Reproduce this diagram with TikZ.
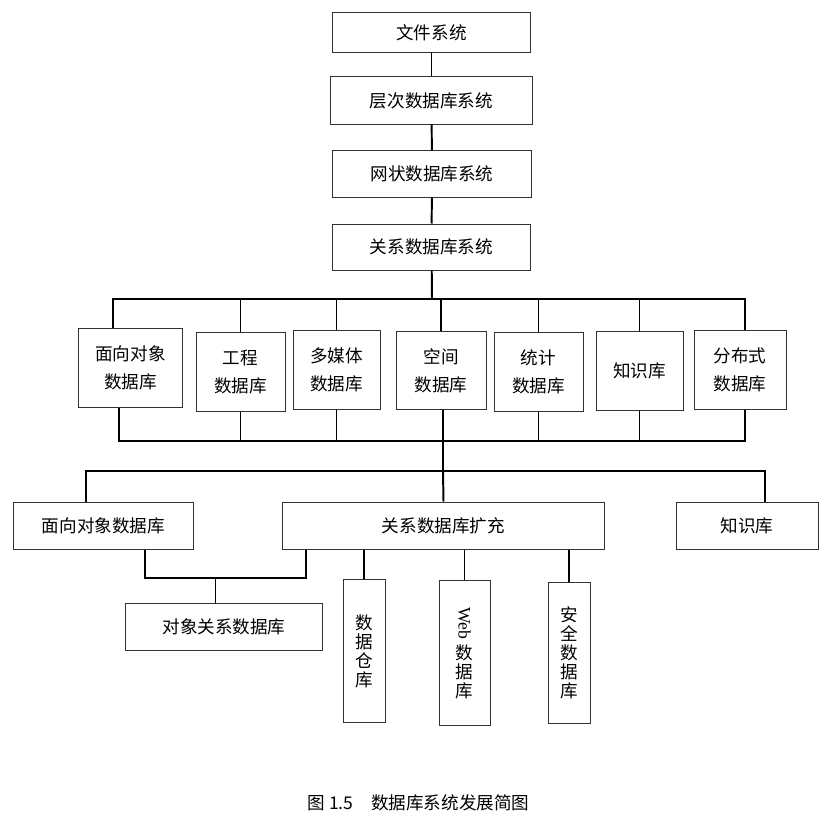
\documentclass[tikz,border=0pt]{standalone}
\usepackage{fontspec}
\newfontfamily\cjk{Noto Sans CJK SC}
\newfontfamily\latinserif{Liberation Serif}
\usetikzlibrary{positioning,calc}
\tikzset{
  sysbox/.style={draw=black!80,line width=0.7pt,minimum width=4.95cm,
    minimum height=1.15cm,align=center,
    font={\cjk\fontsize{12.5}{20}\selectfont}},
  dbbox/.style={draw=black!80,line width=0.7pt,minimum width=2.2cm,
    minimum height=1.95cm,align=center,inner sep=1pt,
    font={\cjk\fontsize{12.5}{20}\selectfont}},
  widebox/.style={draw=black!80,line width=0.7pt,minimum height=1.175cm,
    align=center,font={\cjk\fontsize{12.5}{20}\selectfont}},
  vbox/.style={draw=black!80,line width=0.7pt,minimum width=1.05cm,
    minimum height=3.55cm,align=center,inner sep=1pt,
    font={\cjk\fontsize{12.5}{13.5}\selectfont}},
  link/.style={draw=black,line width=1.4pt},
  thinlink/.style={draw=black,line width=0.7pt},
}

\begin{document}
\begin{tikzpicture}[x=0.025cm,y=-0.025cm]
  \useasboundingbox (0,0) rectangle (826,819);
  % evolution chain
  \node[sysbox,minimum height=0.975cm] (file) at (431.5,32.5) {文件系统};
  \node[sysbox,minimum width=5.025cm,minimum height=1.175cm] (hier) at (431.5,100.5) {层次数据库系统};
  \node[sysbox] (net) at (432,174) {网状数据库系统};
  \node[sysbox] (rel) at (431.5,247) {关系数据库系统};
  \draw[link] (file) -- (hier);
  \draw[link] (hier) -- (net);
  \draw[link] (net) -- (rel);

  % second generation
  \node[dbbox,minimum width=2.575cm] (ood) at (130.5,368) {面向对象\\数据库};
  \node[dbbox,minimum width=2.225cm] (eng) at (240.5,372) {工程\\数据库};
  \node[dbbox,minimum width=2.175cm] (mm) at (336.5,370) {多媒体\\数据库};
  \node[dbbox,minimum width=2.25cm,minimum height=1.925cm] (spa) at (441,370.5) {空间\\数据库};
  \node[dbbox,minimum width=2.225cm] (sta) at (538.5,372) {统计\\数据库};
  \node[dbbox,minimum width=2.175cm] (kno) at (639.5,371) {知识库};
  \node[dbbox,minimum width=2.3cm] (dis) at (740,370) {分布式\\数据库};

  \coordinate (bus1) at (432,299);
  \coordinate (bus2) at (443,441);
  \coordinate (bus3) at (443,471);
  \draw[link] (rel) -- (bus1);
  \draw[link] ([xshift=-0.44cm]ood.north) |- (bus1) -| ([xshift=0.125cm]dis.north);
  \foreach \n in {eng,mm,spa,sta,kno}
    \draw[link] (\n.north) -- (\n.north |- bus1);
  \draw[link] ([xshift=-0.29cm]ood.south) |- (bus2) -| ([xshift=0.125cm]dis.south);
  \foreach \n in {eng,mm,sta,kno}
    \draw[link] (\n.south) -- (\n.south |- bus2);
  \draw[link] ([xshift=0.05cm]spa.south) -- (bus3);

  % third generation
  \node[widebox,minimum width=4.475cm] (ood2) at (103.5,525.5) {面向对象数据库};
  \node[widebox,minimum width=8.025cm] (ext) at (443.5,525.5) {关系数据库扩充};
  \node[widebox,minimum width=3.55cm] (kno2) at (747,525.5) {知识库};
  \draw[link] ([xshift=-0.44cm]ood2.north) |- (bus3) -| ([xshift=0.45cm]kno2.north);
  \draw[link] (ext.north) -- (bus3);

  \node[widebox,minimum width=4.9cm] (orm) at (224,626.5) {对象关系数据库};
  \coordinate (join) at (215,578);
  \draw[link] ([xshift=1.04cm]ood2.south) |- (join) -| ([xshift=-3.44cm]ext.south);
  \draw[thinlink] (join) -- (join |- orm.north);

  \node[vbox] (dw) at (364,651) {数\\据\\仓\\库};
  \node[vbox,minimum width=1.275cm,minimum height=3.6cm] (web) at (464.5,653)
    {\rotatebox{-90}{\latinserif Web}\\[3pt]数\\据\\库};
  \node[vbox,minimum height=3.5cm] (sec) at (569,653) {安\\全\\数\\据\\库};
  \foreach \n in {dw,web,sec}
    \draw[link] (\n.north) -- (\n.north |- ext.south);

  \node[font={\cjk\fontsize{12.5}{15}\selectfont}] (cap) at (418.5,803)
    {图 1.5\quad 数据库系统发展简图};
\end{tikzpicture}
\end{document}
